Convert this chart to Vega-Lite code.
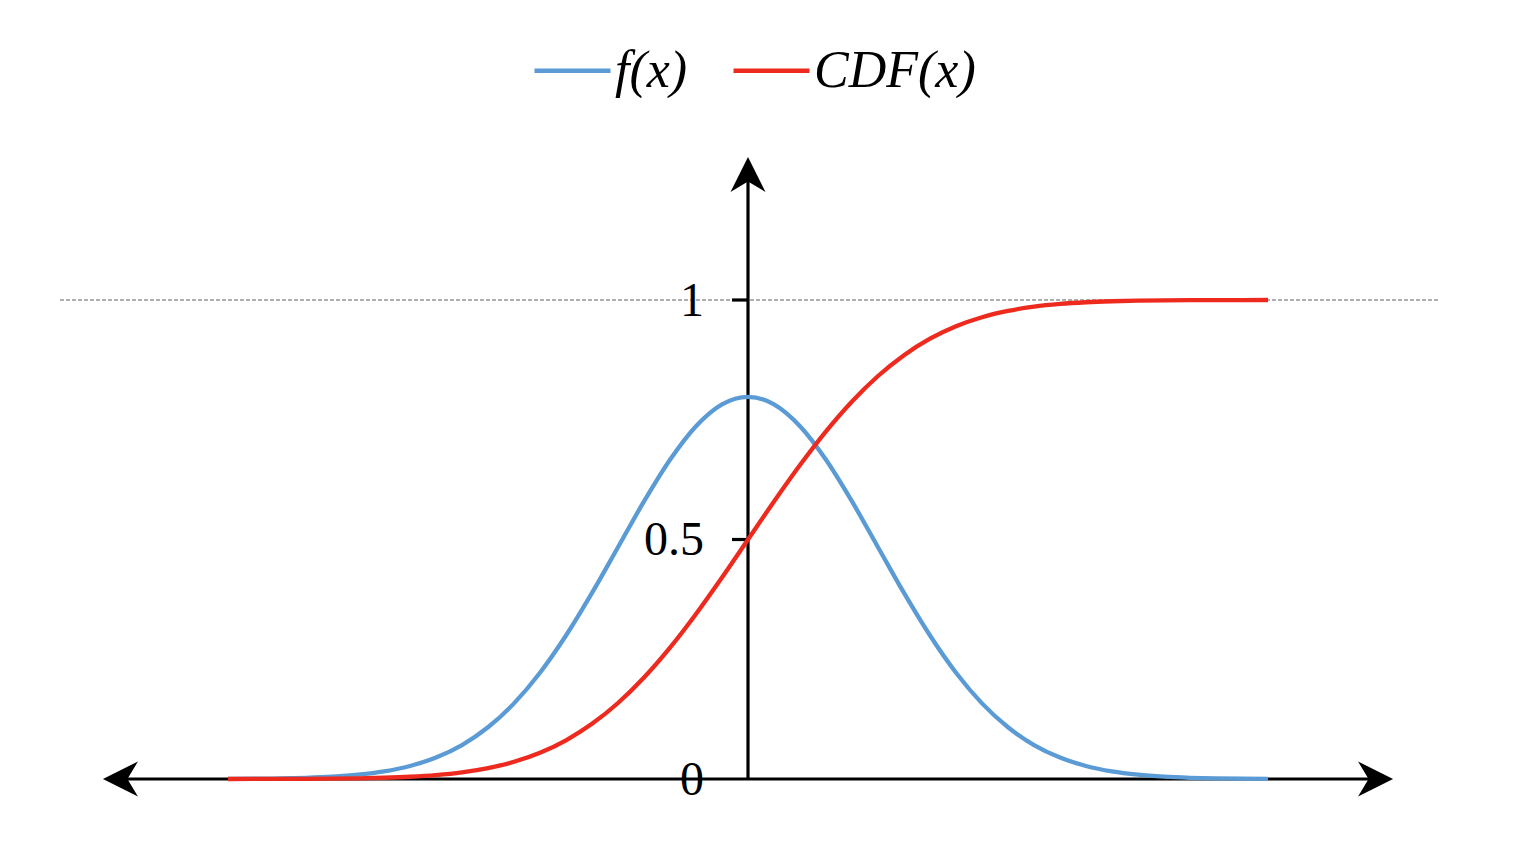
{
  "$schema": "https://vega.github.io/schema/vega-lite/v6.json",
  "width": 1535,
  "height": 858,
  "autosize": {"type": "none"},
  "padding": 0,
  "background": "white",
  "config": {"view": {"stroke": null}},
  "datasets": {
    "curves": [
      {"x": -2.0, "y": 0.0003, "series": "f(x)"}, {"x": -1.9, "y": 0.0006, "series": "f(x)"},
      {"x": -1.8, "y": 0.0012, "series": "f(x)"}, {"x": -1.7, "y": 0.0025, "series": "f(x)"},
      {"x": -1.6, "y": 0.0048, "series": "f(x)"}, {"x": -1.5, "y": 0.0089, "series": "f(x)"},
      {"x": -1.4, "y": 0.0158, "series": "f(x)"}, {"x": -1.3, "y": 0.0272, "series": "f(x)"},
      {"x": -1.2, "y": 0.0448, "series": "f(x)"}, {"x": -1.1, "y": 0.0709, "series": "f(x)"},
      {"x": -1.0, "y": 0.1080, "series": "f(x)"}, {"x": -0.9, "y": 0.1579, "series": "f(x)"},
      {"x": -0.8, "y": 0.2218, "series": "f(x)"}, {"x": -0.7, "y": 0.2995, "series": "f(x)"},
      {"x": -0.6, "y": 0.3884, "series": "f(x)"}, {"x": -0.5, "y": 0.4839, "series": "f(x)"},
      {"x": -0.4, "y": 0.5794, "series": "f(x)"}, {"x": -0.3, "y": 0.6664, "series": "f(x)"},
      {"x": -0.2, "y": 0.7365, "series": "f(x)"}, {"x": -0.1, "y": 0.7821, "series": "f(x)"},
      {"x": 0.0, "y": 0.7979, "series": "f(x)"},
      {"x": 0.1, "y": 0.7821, "series": "f(x)"}, {"x": 0.2, "y": 0.7365, "series": "f(x)"},
      {"x": 0.3, "y": 0.6664, "series": "f(x)"}, {"x": 0.4, "y": 0.5794, "series": "f(x)"},
      {"x": 0.5, "y": 0.4839, "series": "f(x)"}, {"x": 0.6, "y": 0.3884, "series": "f(x)"},
      {"x": 0.7, "y": 0.2995, "series": "f(x)"}, {"x": 0.8, "y": 0.2218, "series": "f(x)"},
      {"x": 0.9, "y": 0.1579, "series": "f(x)"}, {"x": 1.0, "y": 0.1080, "series": "f(x)"},
      {"x": 1.1, "y": 0.0709, "series": "f(x)"}, {"x": 1.2, "y": 0.0448, "series": "f(x)"},
      {"x": 1.3, "y": 0.0272, "series": "f(x)"}, {"x": 1.4, "y": 0.0158, "series": "f(x)"},
      {"x": 1.5, "y": 0.0089, "series": "f(x)"}, {"x": 1.6, "y": 0.0048, "series": "f(x)"},
      {"x": 1.7, "y": 0.0025, "series": "f(x)"}, {"x": 1.8, "y": 0.0012, "series": "f(x)"},
      {"x": 1.9, "y": 0.0006, "series": "f(x)"}, {"x": 2.0, "y": 0.0003, "series": "f(x)"},
      {"x": -2.0, "y": 0.0000, "series": "CDF(x)"}, {"x": -1.9, "y": 0.0001, "series": "CDF(x)"},
      {"x": -1.8, "y": 0.0002, "series": "CDF(x)"}, {"x": -1.7, "y": 0.0003, "series": "CDF(x)"},
      {"x": -1.6, "y": 0.0007, "series": "CDF(x)"}, {"x": -1.5, "y": 0.0013, "series": "CDF(x)"},
      {"x": -1.4, "y": 0.0026, "series": "CDF(x)"}, {"x": -1.3, "y": 0.0047, "series": "CDF(x)"},
      {"x": -1.2, "y": 0.0082, "series": "CDF(x)"}, {"x": -1.1, "y": 0.0139, "series": "CDF(x)"},
      {"x": -1.0, "y": 0.0228, "series": "CDF(x)"}, {"x": -0.9, "y": 0.0359, "series": "CDF(x)"},
      {"x": -0.8, "y": 0.0548, "series": "CDF(x)"}, {"x": -0.7, "y": 0.0808, "series": "CDF(x)"},
      {"x": -0.6, "y": 0.1151, "series": "CDF(x)"}, {"x": -0.5, "y": 0.1587, "series": "CDF(x)"},
      {"x": -0.4, "y": 0.2119, "series": "CDF(x)"}, {"x": -0.3, "y": 0.2743, "series": "CDF(x)"},
      {"x": -0.2, "y": 0.3446, "series": "CDF(x)"}, {"x": -0.1, "y": 0.4207, "series": "CDF(x)"},
      {"x": 0.0, "y": 0.5000, "series": "CDF(x)"},
      {"x": 0.1, "y": 0.5793, "series": "CDF(x)"}, {"x": 0.2, "y": 0.6554, "series": "CDF(x)"},
      {"x": 0.3, "y": 0.7257, "series": "CDF(x)"}, {"x": 0.4, "y": 0.7881, "series": "CDF(x)"},
      {"x": 0.5, "y": 0.8413, "series": "CDF(x)"}, {"x": 0.6, "y": 0.8849, "series": "CDF(x)"},
      {"x": 0.7, "y": 0.9192, "series": "CDF(x)"}, {"x": 0.8, "y": 0.9452, "series": "CDF(x)"},
      {"x": 0.9, "y": 0.9641, "series": "CDF(x)"}, {"x": 1.0, "y": 0.9772, "series": "CDF(x)"},
      {"x": 1.1, "y": 0.9861, "series": "CDF(x)"}, {"x": 1.2, "y": 0.9918, "series": "CDF(x)"},
      {"x": 1.3, "y": 0.9953, "series": "CDF(x)"}, {"x": 1.4, "y": 0.9974, "series": "CDF(x)"},
      {"x": 1.5, "y": 0.9987, "series": "CDF(x)"}, {"x": 1.6, "y": 0.9993, "series": "CDF(x)"},
      {"x": 1.7, "y": 0.9997, "series": "CDF(x)"}, {"x": 1.8, "y": 0.9998, "series": "CDF(x)"},
      {"x": 1.9, "y": 0.9999, "series": "CDF(x)"}, {"x": 2.0, "y": 1.0000, "series": "CDF(x)"}
    ],
    "axes": [
      {"x": -2.40, "x2": 2.40, "y": 0, "y2": 0},
      {"x": 0, "x2": 0, "y": 0, "y2": 1.25},
      {"x": -0.0615, "x2": 0, "y": 1, "y2": 1},
      {"x": -0.0615, "x2": 0, "y": 0.5, "y2": 0.5}
    ],
    "guide": [{"x": -2.646, "x2": 2.662, "y": 1, "y2": 1}],
    "labels": [
      {"y": 1, "label": "1"},
      {"y": 0.5, "label": "0.5"},
      {"y": 0, "label": "0"}
    ]
  },
  "layer": [
    {
      "data": {"name": "guide"},
      "mark": {"type": "rule", "color": "#5f5f5f", "strokeWidth": 1, "strokeDash": [4, 2]},
      "encoding": {
        "x": {"field": "x", "type": "quantitative", "scale": {"domain": [-2.87692, 3.02692], "nice": false, "zero": false}, "axis": null},
        "x2": {"field": "x2"},
        "y": {"field": "y", "type": "quantitative", "scale": {"domain": [-0.16493, 1.6263], "nice": false, "zero": false}, "axis": null},
        "y2": {"field": "y2"}
      }
    },
    {
      "data": {"name": "axes"},
      "mark": {"type": "rule", "color": "black", "strokeWidth": 3.2},
      "encoding": {
        "x": {"field": "x", "type": "quantitative", "scale": {"domain": [-2.87692, 3.02692], "nice": false, "zero": false}, "axis": null},
        "x2": {"field": "x2"},
        "y": {"field": "y", "type": "quantitative", "scale": {"domain": [-0.16493, 1.6263], "nice": false, "zero": false}, "axis": null},
        "y2": {"field": "y2"}
      }
    },
    {
      "data": {"name": "labels"},
      "mark": {"type": "text", "align": "right", "baseline": "middle", "dx": -44, "dy": 2, "font": "Liberation Serif", "fontSize": 48, "color": "black"},
      "encoding": {
        "x": {"datum": 0, "type": "quantitative", "scale": {"domain": [-2.87692, 3.02692], "nice": false, "zero": false}, "axis": null},
        "y": {"field": "y", "type": "quantitative", "scale": {"domain": [-0.16493, 1.6263], "nice": false, "zero": false}, "axis": null},
        "text": {"field": "label"}
      }
    },
    {
      "data": {"name": "curves"},
      "mark": {"type": "line", "strokeWidth": 4.3, "interpolate": "monotone"},
      "encoding": {
        "x": {"field": "x", "type": "quantitative", "scale": {"domain": [-2.87692, 3.02692], "nice": false, "zero": false}, "axis": null},
        "y": {"field": "y", "type": "quantitative", "scale": {"domain": [-0.16493, 1.6263], "nice": false, "zero": false}, "axis": null},
        "color": {
          "field": "series",
          "type": "nominal",
          "scale": {"domain": ["f(x)", "CDF(x)"], "range": ["#5b9bd5", "#ee2a1e"]},
          "legend": {
            "orient": "none",
            "legendX": 532,
            "legendY": 30,
            "direction": "horizontal",
            "title": null,
            "padding": 0,
            "symbolType": "stroke",
            "symbolSize": 5776,
            "symbolStrokeWidth": 4.3,
            "labelFont": "Liberation Serif",
            "labelFontStyle": "italic",
            "labelFontSize": 52,
            "labelColor": "black",
            "labelOffset": 2,
            "labelLimit": 500,
            "columnPadding": 36
          }
        },
        "order": {"field": "x", "type": "quantitative"}
      }
    },
    {
      "data": {"values": [{"x": 2.481, "y": 0}]},
      "mark": {"type": "point", "shape": "M0,0 L-2,-1 L-1.4,0 L-2,1 Z", "size": 1225, "filled": true, "color": "black", "opacity": 1, "strokeWidth": 0, "angle": 0},
      "encoding": {
        "x": {"field": "x", "type": "quantitative", "scale": {"domain": [-2.87692, 3.02692], "nice": false, "zero": false}, "axis": null},
        "y": {"field": "y", "type": "quantitative", "scale": {"domain": [-0.16493, 1.6263], "nice": false, "zero": false}, "axis": null}
      }
    },
    {
      "data": {"values": [{"x": -2.481, "y": 0}]},
      "mark": {"type": "point", "shape": "M0,0 L-2,-1 L-1.4,0 L-2,1 Z", "size": 1225, "filled": true, "color": "black", "opacity": 1, "strokeWidth": 0, "angle": 180},
      "encoding": {
        "x": {"field": "x", "type": "quantitative", "scale": {"domain": [-2.87692, 3.02692], "nice": false, "zero": false}, "axis": null},
        "y": {"field": "y", "type": "quantitative", "scale": {"domain": [-0.16493, 1.6263], "nice": false, "zero": false}, "axis": null}
      }
    },
    {
      "data": {"values": [{"x": 0, "y": 1.2985}]},
      "mark": {"type": "point", "shape": "M0,0 L-2,-1 L-1.4,0 L-2,1 Z", "size": 1225, "filled": true, "color": "black", "opacity": 1, "strokeWidth": 0, "angle": 270},
      "encoding": {
        "x": {"field": "x", "type": "quantitative", "scale": {"domain": [-2.87692, 3.02692], "nice": false, "zero": false}, "axis": null},
        "y": {"field": "y", "type": "quantitative", "scale": {"domain": [-0.16493, 1.6263], "nice": false, "zero": false}, "axis": null}
      }
    }
  ]
}
